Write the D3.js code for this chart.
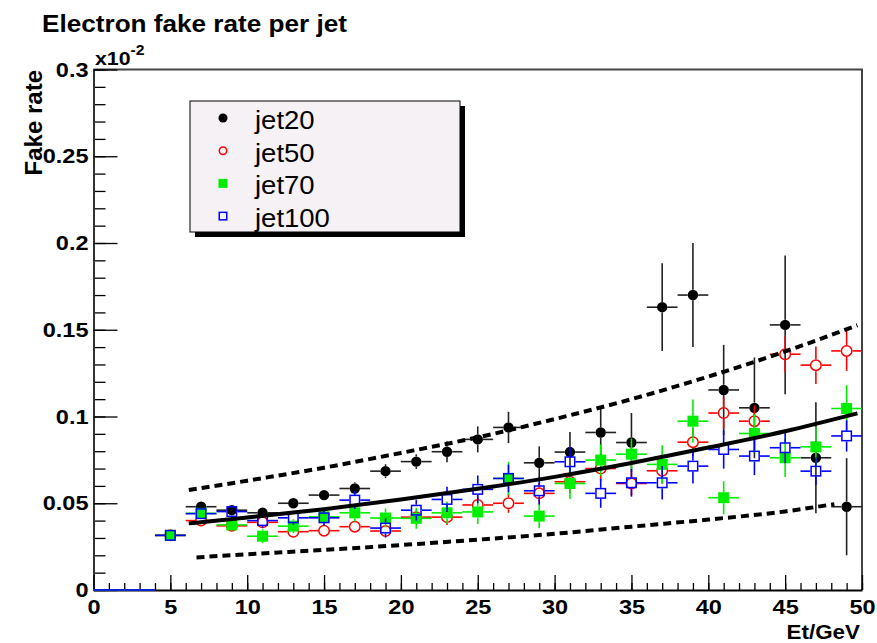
<!DOCTYPE html>
<meta charset="utf-8">
<style>

body {
  margin: 0;
  background: #fff;
}

svg {
  display: block;
  font-family: "Liberation Sans", Arial, sans-serif;
}

.axis text {
  font-size: 21px;
  font-weight: bold;
  fill: #000;
}

.axis line {
  stroke: #000;
  stroke-width: 1.3px;
}

.fit {
  fill: none;
  stroke: #000;
  stroke-width: 4px;
}

.fit--dash {
  stroke-dasharray: 8,5;
}

</style>
<svg width="877" height="643"></svg>
<script src="https://cdnjs.cloudflare.com/ajax/libs/d3/7.8.5/d3.min.js"></script>
<script>

// bin centres (GeV), bins are 2 GeV wide
var binCenters = [1, 3, 5, 7, 9, 11, 13, 15, 17, 19, 21, 23, 25, 27, 29, 31, 33, 35, 37, 39, 41, 43, 45, 47, 49];

var jet20 = [0, 0, 0.0315, 0.048, 0.046, 0.0445, 0.050, 0.0547, 0.0585, 0.0685, 0.074, 0.0797, 0.0868,
             0.0937, 0.0733, 0.0795, 0.0908, 0.085, 0.163, 0.170, 0.1153, 0.105, 0.1528, 0.0762, 0.048];
var jet20Err = [0, 0, 0.002, 0.0025, 0.0025, 0.0025, 0.003, 0.003, 0.0035, 0.004, 0.0042, 0.006, 0.0075,
                0.009, 0.0095, 0.0115, 0.0145, 0.017, 0.0253, 0.030, 0.026, 0.029, 0.040, 0.032, 0.028];

var jet50 = [0, 0, 0.0315, 0.040, 0.037, 0.039, 0.0336, 0.0342, 0.0365, 0.034, 0.042, 0.042, 0.049,
             0.050, 0.0557, 0.0624, 0.070, 0.0614, 0.0687, 0.0852, 0.102, 0.0973, 0.1359, 0.1296, 0.1378];
var jet50Err = [0, 0, 0.002, 0.003, 0.003, 0.003, 0.003, 0.003, 0.0035, 0.0035, 0.004, 0.0045, 0.005,
                0.0055, 0.006, 0.0065, 0.007, 0.007, 0.0075, 0.008, 0.009, 0.009, 0.0104, 0.0108, 0.0115];

var jet70 = [0, 0, 0.0315, 0.0442, 0.0375, 0.031, 0.0368, 0.0422, 0.0445, 0.0415, 0.0413, 0.0445, 0.045,
             0.0643, 0.0426, 0.0614, 0.0749, 0.0783, 0.0724, 0.0973, 0.0532, 0.0902, 0.0762, 0.0825, 0.1046];
var jet70Err = [0, 0, 0.002, 0.003, 0.003, 0.004, 0.004, 0.0045, 0.005, 0.0055, 0.006, 0.0065, 0.007,
                0.0096, 0.007, 0.009, 0.009, 0.009, 0.011, 0.0125, 0.0095, 0.011, 0.011, 0.0115, 0.0135];

var jet100 = [0, 0, 0.0315, 0.044, 0.0452, 0.040, 0.0416, 0.0416, 0.0518, 0.0357, 0.046, 0.0522, 0.058,
              0.0643, 0.0572, 0.0739, 0.0557, 0.0618, 0.0618, 0.0714, 0.081, 0.0772, 0.082, 0.0685, 0.0888];
var jet100Err = [0, 0, 0.002, 0.003, 0.0035, 0.004, 0.004, 0.0045, 0.005, 0.0055, 0.006, 0.0073, 0.008,
                 0.008, 0.008, 0.0086, 0.0083, 0.008, 0.0096, 0.010, 0.011, 0.011, 0.009, 0.008, 0.009];

// fit curve and its band
var fitX    = [6.2, 10, 15, 20, 25, 30, 35, 40, 45, 49.7];
var fitMid  = [0.0384, 0.0418, 0.0466, 0.0521, 0.0583, 0.0652, 0.0732, 0.0821, 0.0915, 0.1018];
var fitUp   = [0.0576, 0.063, 0.0705, 0.079, 0.088, 0.0985, 0.110, 0.123, 0.1375, 0.1526];
var lowX    = [6.7, 10, 15, 20, 25, 30, 35, 40, 45, 48.2];
var fitLow  = [0.0188, 0.0206, 0.0231, 0.0259, 0.029, 0.0324, 0.0365, 0.0406, 0.0453, 0.0495];

var xTicks = [0, 5, 10, 15, 20, 25, 30, 35, 40, 45, 50];
var yTicks = [0, 0.05, 0.1, 0.15, 0.2, 0.25, 0.3];
var seriesNames = ["jet20", "jet50", "jet70", "jet100"];

var svg = d3.select("svg"),
    margin = {top: 69.5, right: 15, bottom: 53, left: 93.5},
    width = +svg.attr("width") - margin.left - margin.right,
    height = +svg.attr("height") - margin.top - margin.bottom,
    g = svg.append("g").attr("transform", "translate(" + margin.left + "," + margin.top + ")");

var x = d3.scaleLinear().domain([0, 50]).range([0, width]),
    y = d3.scaleLinear().domain([0, 0.3]).range([height, 0]);

var stretch = 1.12;

// frame (top + right)
g.append("path")
    .attr("d", "M0,0H" + width + "V" + height)
    .attr("fill", "none")
    .attr("stroke", "#444")
    .attr("stroke-width", 2);

// minor ticks
g.append("g")
    .attr("class", "axis")
    .call(d3.axisLeft(y).tickValues(d3.range(0, 31).map(function(i) { return i / 100; })).tickSize(-12).tickFormat(""))
    .select(".domain").remove();

g.append("g")
    .attr("class", "axis")
    .attr("transform", "translate(0," + height + ")")
    .call(d3.axisBottom(x).tickValues(d3.range(0, 51)).tickSize(-7).tickFormat(""))
    .select(".domain").remove();

// major ticks + labels
var yAxis = g.append("g")
    .attr("class", "axis axis--y")
    .call(d3.axisLeft(y).tickValues(yTicks).tickSize(-24).tickPadding(5).tickSizeOuter(0).tickFormat(d3.format("~g")));
yAxis.select(".domain").attr("stroke", "#333").attr("stroke-width", 2);
yAxis.selectAll("text")
    .attr("x", -5 / stretch)
    .attr("transform", "scale(" + stretch + ",1)");

var xAxis = g.append("g")
    .attr("class", "axis axis--x")
    .attr("transform", "translate(0," + height + ")")
    .call(d3.axisBottom(x).tickValues(xTicks).tickSize(-15).tickPadding(9).tickSizeOuter(0));
xAxis.select(".domain").attr("stroke", "#000").attr("stroke-width", 2);
xAxis.selectAll("text")
    .attr("transform", "scale(" + stretch + ",1)");

// titles
svg.append("text")
    .attr("x", 42)
    .attr("y", 32)
    .attr("textLength", 305)
    .attr("lengthAdjust", "spacingAndGlyphs")
    .style("font", "bold 24px 'Liberation Sans', Arial, sans-serif")
    .text("Electron fake rate per jet");

var expo = svg.append("text")
    .attr("transform", "translate(95,65) scale(" + stretch + ",1)")
    .style("font", "bold 19px 'Liberation Sans', Arial, sans-serif")
    .text("x10");
expo.append("tspan")
    .attr("dy", -10)
    .style("font-size", "14px")
    .text("-2");

svg.append("text")
    .attr("transform", "translate(42,70) rotate(-90)")
    .attr("text-anchor", "end")
    .style("font", "bold 24px 'Liberation Sans', Arial, sans-serif")
    .text("Fake rate");

svg.append("text")
    .attr("transform", "translate(860,639) scale(" + stretch + ",1)")
    .attr("text-anchor", "end")
    .style("font", "bold 20px 'Liberation Sans', Arial, sans-serif")
    .text("Et/GeV");

// marker styles
var styles = {
  jet20:  {color: "#000",    shape: "circle", filled: true,  half: 5.2},
  jet50:  {color: "#ff0000", shape: "circle", filled: false, half: 6},
  jet70:  {color: "#00ee00", shape: "square", filled: true,  half: 5.5},
  jet100: {color: "#0000ff", shape: "square", filled: false, half: 5.5}
};
var seriesData = {jet20: [jet20, jet20Err], jet50: [jet50, jet50Err], jet70: [jet70, jet70Err], jet100: [jet100, jet100Err]};

function drawMarker(sel, st, half) {
  if (st.shape === "circle") {
    sel.append("circle")
        .attr("r", st.filled ? half : half - 0.75)
        .attr("fill", st.filled ? st.color : "none")
        .attr("stroke", st.color)
        .attr("stroke-width", st.filled ? 0 : 1.5);
  } else {
    var s = st.filled ? half : half - 0.75;
    sel.append("rect")
        .attr("x", -s).attr("y", -s)
        .attr("width", 2 * s).attr("height", 2 * s)
        .attr("fill", st.filled ? st.color : "none")
        .attr("stroke", st.color)
        .attr("stroke-width", st.filled ? 0 : 1.5);
  }
}

seriesNames.forEach(function(name) {
  var st = styles[name],
      pts = binCenters.map(function(c, i) {
        return {x: c, v: seriesData[name][0][i], e: seriesData[name][1][i]};
      });

  var pt = g.append("g")
      .attr("class", "series")
    .selectAll(".pt")
    .data(pts)
    .enter().append("g")
      .attr("class", "pt")
      .attr("transform", function(d) { return "translate(" + x(d.x) + "," + y(d.v) + ")"; });

  pt.each(function(d) {
    var p = d3.select(this),
        h = st.half,
        left = x(d.x - 1) - x(d.x),
        right = x(d.x + 1) - x(d.x),
        up = y(d.v + d.e) - y(d.v),
        down = y(d.v - d.e) - y(d.v),
        segs;

    if (d.v === 0) {
      segs = [[left, 0, right, 0]];
    } else {
      segs = [[left, 0, -h, 0], [h, 0, right, 0]];
      if (down > h) segs.push([0, up, 0, -h], [0, h, 0, down]);
    }
    p.selectAll("line")
      .data(segs)
      .enter().append("line")
        .attr("x1", function(s) { return s[0]; })
        .attr("y1", function(s) { return s[1]; })
        .attr("x2", function(s) { return s[2]; })
        .attr("y2", function(s) { return s[3]; })
        .attr("stroke", name === "jet20" ? "#222" : st.color)
        .attr("stroke-width", 1.6);

    if (d.v !== 0) drawMarker(p, st, h);
  });
});

// fit lines
var line = d3.line()
    .curve(d3.curveMonotoneX)
    .x(function(d) { return x(d[0]); })
    .y(function(d) { return y(d[1]); });

g.append("path")
    .attr("class", "fit fit--dash")
    .attr("d", line(d3.zip(fitX, fitUp)));

g.append("path")
    .attr("class", "fit fit--dash")
    .attr("d", line(d3.zip(lowX, fitLow)));

g.append("path")
    .attr("class", "fit")
    .attr("d", line(d3.zip(fitX, fitMid)));

// legend
var legend = svg.append("g")
    .attr("transform", "translate(190,101)");

legend.append("rect")
    .attr("x", 5).attr("y", 5)
    .attr("width", 270).attr("height", 131)
    .attr("fill", "#000");

legend.append("rect")
    .attr("width", 270).attr("height", 131)
    .attr("fill", "#f5f1f5")
    .attr("stroke", "#000")
    .attr("stroke-width", 1);

var entry = legend.selectAll(".entry")
    .data(seriesNames)
    .enter().append("g")
      .attr("class", "entry")
      .attr("transform", function(d, i) { return "translate(0," + (17 + i * 32.7) + ")"; });

entry.each(function(name) {
  var m = d3.select(this).append("g").attr("transform", "translate(33,0)");
  drawMarker(m, styles[name], 4.5);
});

entry.append("text")
    .attr("transform", "translate(65,11) scale(1.1,1)")
    .style("font", "25px 'Liberation Sans', Arial, sans-serif")
    .text(function(d) { return d; });

</script>
